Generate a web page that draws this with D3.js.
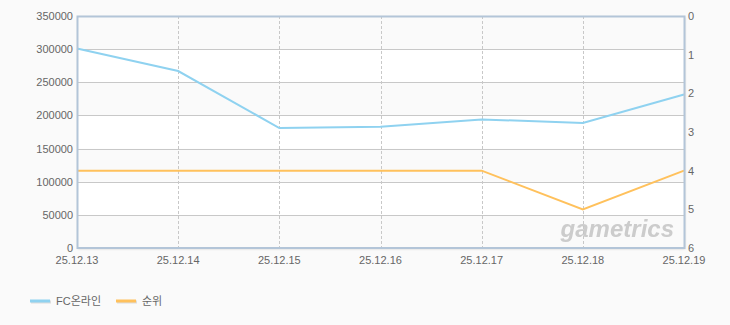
<!DOCTYPE html>
<meta charset="utf-8">
<head>
<style>
  body { margin: 0; background: #fafafa; }
  text { font-family: "Liberation Sans", "Noto Sans CJK KR", sans-serif; }
</style>
</head>
<body>
<script src="https://d3js.org/d3.v7.min.js"></script>
<div id="chart"></div>
<script>

// chart data
var dates = ["25.12.13", "25.12.14", "25.12.15", "25.12.16", "25.12.17", "25.12.18", "25.12.19"];
var users = [301000, 267000, 181000, 183000, 194000, 188500, 231500];
var ranks = [4, 4, 4, 4, 4, 5, 4];
var leftTicks = [0, 50000, 100000, 150000, 200000, 250000, 300000, 350000];
var rightTicks = [0, 1, 2, 3, 4, 5, 6];
var seriesNames = ["FC온라인", "순위"];
var seriesColors = ["#8fd2f0", "#ffc15c"];

var margin = {top: 16, right: 46, bottom: 77, left: 77},
    width = 730 - margin.left - margin.right,
    height = 325 - margin.top - margin.bottom;

var svg = d3.select("#chart").append("svg")
  .attr("width", 730)
  .attr("height", 325)
  .style("display", "block");

var defs = svg.append("defs");
var f = defs.append("filter").attr("id", "shadow").attr("x", "-5%").attr("y", "-5%").attr("width", "110%").attr("height", "110%");
f.append("feDropShadow").attr("dx", 1).attr("dy", 1).attr("stdDeviation", 1.2).attr("flood-color", "#000").attr("flood-opacity", 0.18);

var g = svg.append("g")
  .attr("transform", "translate(" + margin.left + "," + margin.top + ")");

var x = d3.scalePoint().domain(dates).range([0, width]);
var y = d3.scaleLinear().domain([0, 350000]).range([height, 0]);
var y2 = d3.scaleLinear().domain([0, 6]).range([0, height]);

// plot background with shadow
g.append("rect")
  .attr("width", width).attr("height", height)
  .attr("fill", "#fff")
  .attr("filter", "url(#shadow)");

// alternating bands
g.selectAll(".band")
  .data(leftTicks.slice(0, -1))
  .enter().append("rect")
  .attr("x", 0)
  .attr("width", width)
  .attr("y", function(d) { return y(d + 50000); })
  .attr("height", function(d) { return y(d) - y(d + 50000); })
  .attr("fill", function(d, i) { return i % 2 == 0 ? "#fafafa" : "#fff"; });

// horizontal grid
g.selectAll(".hgrid")
  .data(leftTicks.slice(1, -1))
  .enter().append("line")
  .attr("x1", 0).attr("x2", width)
  .attr("y1", function(d) { return Math.round(y(d)) + 0.5; })
  .attr("y2", function(d) { return Math.round(y(d)) + 0.5; })
  .attr("stroke", "#c8c8c8");

// vertical dashed grid
g.selectAll(".vgrid")
  .data(dates.slice(1, -1))
  .enter().append("line")
  .attr("x1", function(d) { return Math.round(x(d)) + 0.5; })
  .attr("x2", function(d) { return Math.round(x(d)) + 0.5; })
  .attr("y1", 0).attr("y2", height)
  .attr("stroke", "#c8c8c8")
  .attr("stroke-dasharray", "3,2");

// lines
var line1 = d3.line()
  .x(function(d, i) { return x(dates[i]); })
  .y(function(d) { return y(d); });
var line2 = d3.line()
  .x(function(d, i) { return x(dates[i]); })
  .y(function(d) { return y2(d); });

g.append("path").datum(users)
  .attr("d", line1).attr("fill", "none")
  .attr("stroke", seriesColors[0]).attr("stroke-width", 2);
g.append("path").datum(ranks)
  .attr("d", line2).attr("fill", "none")
  .attr("stroke", seriesColors[1]).attr("stroke-width", 2);

// watermark
g.append("text")
  .attr("x", width - 10).attr("y", height - 11)
  .attr("text-anchor", "end")
  .attr("font-size", 24)
  .attr("font-style", "italic")
  .attr("font-weight", "bold")
  .attr("fill", "#c4c4c4")
  .attr("opacity", 0.85)
  .text("gametrics");

// frame
g.append("rect")
  .attr("x", 0.5).attr("y", 0.5)
  .attr("width", width).attr("height", height - 0.5)
  .attr("fill", "none")
  .attr("stroke", "#b3c5d8")
  .attr("stroke-width", 2);

// left axis labels
g.selectAll(".ly")
  .data(leftTicks)
  .enter().append("text")
  .attr("x", -4)
  .attr("y", function(d) { return y(d) + 4; })
  .attr("text-anchor", "end")
  .attr("font-size", 11)
  .attr("fill", "#666")
  .text(function(d) { return d; });

// right axis labels
g.selectAll(".ry")
  .data(rightTicks)
  .enter().append("text")
  .attr("x", width + 4)
  .attr("y", function(d) { return y2(d) + 4; })
  .attr("font-size", 11)
  .attr("fill", "#666")
  .text(function(d) { return d; });

// x labels
g.selectAll(".xl")
  .data(dates)
  .enter().append("text")
  .attr("x", function(d) { return x(d); })
  .attr("y", height + 16)
  .attr("text-anchor", "middle")
  .attr("font-size", 11)
  .attr("fill", "#666")
  .text(function(d) { return d; });

// legend
var legendX = [30, 116];
var legend = svg.selectAll(".legend")
  .data(seriesNames)
  .enter().append("g")
  .attr("transform", function(d, i) { return "translate(" + legendX[i] + ",301)"; });
legend.append("line")
  .attr("x1", 1).attr("x2", 21).attr("y1", 1).attr("y2", 1)
  .attr("stroke", "#ddd").attr("stroke-width", 3);
legend.append("line")
  .attr("x1", 0).attr("x2", 20).attr("y1", 0).attr("y2", 0)
  .attr("stroke", function(d, i) { return seriesColors[i]; }).attr("stroke-width", 3);
legend.append("text")
  .attr("x", 26).attr("y", 4)
  .attr("font-size", 11)
  .attr("fill", "#666")
  .text(function(d) { return d; });

</script>
</body>
